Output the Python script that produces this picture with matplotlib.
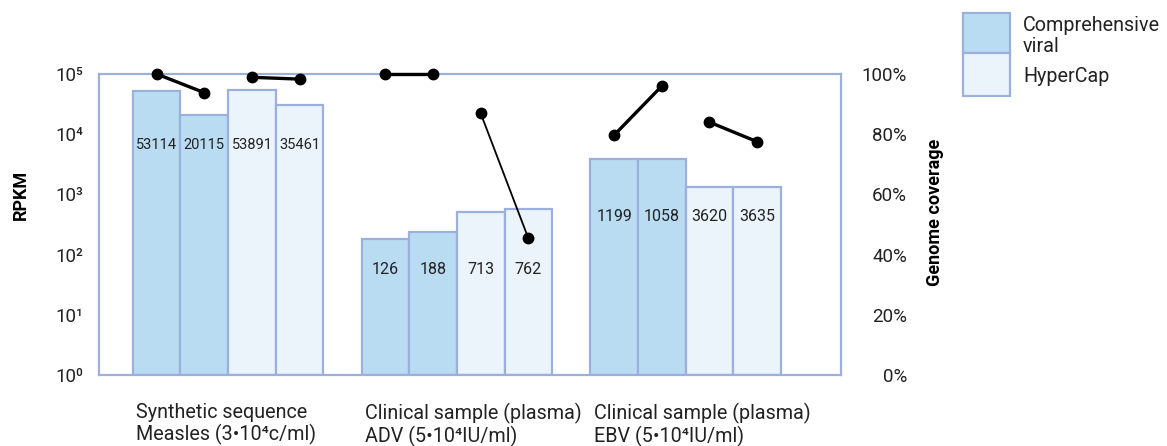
import numpy as np
import matplotlib
matplotlib.use('Agg')
import matplotlib.pyplot as plt
from matplotlib.patches import Rectangle

plt.rcParams['font.family'] = ['Roboto', 'DejaVu Sans']

# ---- data ----
groups = ['Synthetic sequence\nMeasles (3•10⁴c/ml)',
          'Clinical sample (plasma)\nADV (5•10⁴IU/ml)',
          'Clinical sample (plasma)\nEBV (5•10⁴IU/ml)']
methods = ['Comprehensive\nviral', 'HyperCap']
# 4 bars per group: comp, comp, hypercap, hypercap
bar_method = [0, 0, 1, 1]
rpkm_height = [53000, 21000, 53900, 30000,
               180, 240, 505, 570,
               3800, 3800, 1340, 1340]
rpkm_label = ['53114', '20115', '53891', '35461',
              '126', '188', '713', '762',
              '1199', '1058', '3620', '3635']
coverage = [100, 93.8, 98.9, 98.3,
            100, 100, 86.9, 45.4,
            79.7, 96.0, 84.0, 77.5]

fill_cols = ['#b9dcf3', '#ebf3fb']
edge_col = '#9cb0dc'
txt_col = '#222222'

fig = plt.figure(figsize=(11.67, 4.46), dpi=100)
ax = fig.add_axes([99 / 1167, 71 / 446, 742 / 1167, 301 / 446])

group_step = 4.8
xs = []
for g in range(len(groups)):
    for j in range(4):
        xs.append(g * group_step + j)
xs = np.array(xs)

for i, x in enumerate(xs):
    m = bar_method[i % 4]
    ax.bar(x, rpkm_height[i], width=1.0, bottom=1, color=fill_cols[m],
           edgecolor=edge_col, linewidth=1.6, zorder=2)

# value labels inside bars
for g in range(len(groups)):
    idx = range(g * 4, g * 4 + 4)
    ylab = min(rpkm_height[k] for k in idx) * 10 ** -0.5
    for k in idx:
        fs = 10.5 if len(rpkm_label[k]) > 4 else 11.5
        ax.text(xs[k], ylab, rpkm_label[k], ha='center', va='center',
                fontsize=fs, color=txt_col, zorder=4)

ax.set_yscale('log')
ax.set_ylim(1, 1e5)
ax.set_xlim(-1.21, 14.36)
ax.set_yticks([10 ** k for k in range(6)])
sup = '⁰¹²³⁴⁵'
ax.set_yticklabels(['10' + sup[k] for k in range(6)])
ax.yaxis.set_minor_locator(matplotlib.ticker.NullLocator())
ax.tick_params(axis='y', length=0, pad=11, labelsize=13.5, labelcolor=txt_col)
ax.set_xticks([])
for s in ax.spines.values():
    s.set_color(edge_col)
    s.set_linewidth(1.6)

# group labels below
for g, name in enumerate(groups):
    ax.annotate(name, xy=(g * group_step - 0.5, 0), xycoords=('data', 'axes fraction'),
                xytext=(2.5, -20), textcoords='offset points', ha='left', va='top',
                fontsize=14.2, color=txt_col, linespacing=1.12)

# genome coverage on right axis
ax2 = ax.twinx()
ax2.set_ylim(0, 100)
ax2.set_yticks(range(0, 101, 20))
ax2.set_yticklabels(['%d%%' % v for v in range(0, 101, 20)])
ax2.tick_params(axis='y', length=0, pad=47.5, labelsize=13.5, labelcolor=txt_col)
for lab in ax2.get_yticklabels():
    lab.set_horizontalalignment('right')
for s in ax2.spines.values():
    s.set_visible(False)

for p in range(0, len(xs), 2):
    lw = 1.3 if abs(coverage[p] - coverage[p + 1]) > 30 else 2.4
    ax2.plot(xs[p:p + 2], coverage[p:p + 2], color='black', lw=lw,
             zorder=5, clip_on=False)
    ax2.plot(xs[p:p + 2], coverage[p:p + 2], 'o', color='black', ms=7.5,
             zorder=6, clip_on=False)

fig.text(21 / 1167, 1 - 195 / 446, 'RPKM', rotation=90, ha='center', va='center',
         fontsize=13, fontweight='bold', color='black')
fig.text(935 / 1167, 1 - 212 / 446, 'Genome coverage', rotation=90, ha='center',
         va='center', fontsize=13, fontweight='bold', color='black')

# legend drawn as stacked swatches
sw = [(13, 53), (53, 96)]
for m, (y0, y1) in enumerate(sw):
    fig.add_artist(Rectangle((963 / 1167, 1 - y1 / 446), 47 / 1167, (y1 - y0) / 446,
                             transform=fig.transFigure, facecolor=fill_cols[m],
                             edgecolor=edge_col, linewidth=1.6))
fig.text(1023 / 1167, 1 - 36 / 446, methods[0], ha='left', va='center',
         fontsize=14.2, color=txt_col, linespacing=1.1)
fig.text(1023 / 1167, 1 - 76 / 446, methods[1], ha='left', va='center',
         fontsize=14.2, color=txt_col)

fig.savefig('out.png', dpi=100)
